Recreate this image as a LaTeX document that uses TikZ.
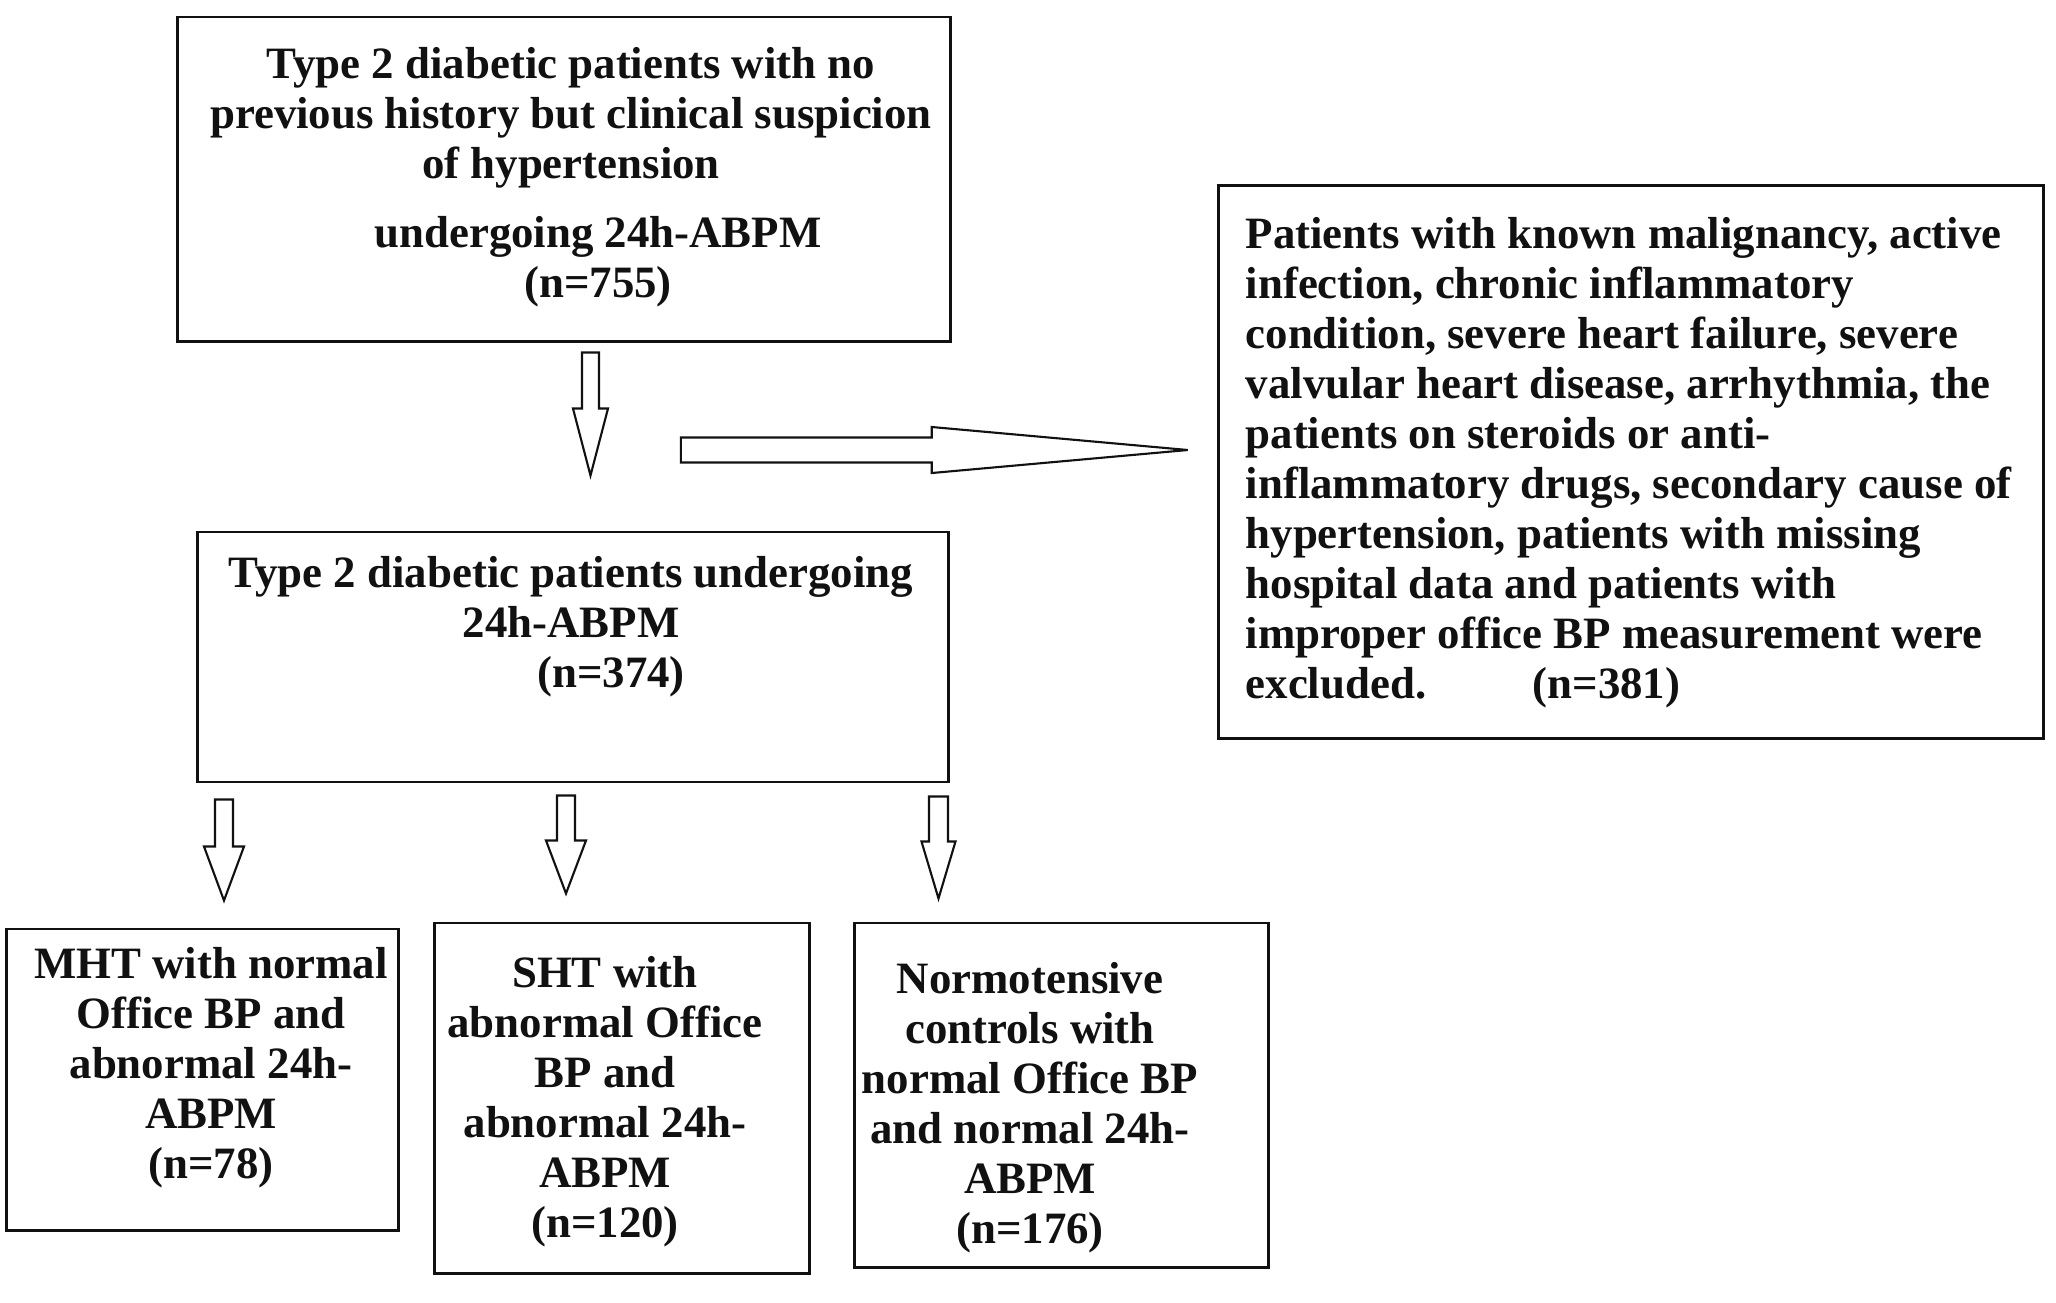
\documentclass[tikz,border=0pt]{standalone}
\usepackage{fontspec}
\setmainfont{Liberation Serif}
\usepackage{tikz}
\usetikzlibrary{calc,positioning}
\definecolor{ink}{HTML}{111111}
\tikzset{
  boxEdge/.style={draw=ink, line width=0.8pt, inner sep=0pt},
  blockArrow/.style={draw=ink, fill=white, line width=0.6pt, line join=miter},
  bodyTxt/.style={text=ink, inner sep=0pt, anchor=base, align=center,
    font=\fontsize{12.75pt}{14.2pt}\selectfont\bfseries},
  leftTxt/.style={bodyTxt, align=left, anchor=base west},
}
% start, tip, shaft half width, head half width, head length
\newcommand{\BlockArrow}[5]{%
  \coordinate (#1-hd) at ($(#2)!#5!(#1)$);
  \draw[blockArrow] ($(#1)!#3!90:(#2)$) -- ($(#1-hd)!#3!90:(#2)$)
    -- ($(#1-hd)!#4!90:(#2)$) -- (#2) -- ($(#1-hd)!#4!-90:(#2)$)
    -- ($(#1-hd)!#3!-90:(#2)$) -- ($(#1)!#3!-90:(#2)$) -- cycle;
}

\begin{document}
\begin{tikzpicture}[x=0.01cm, y=0.01cm]
  \useasboundingbox[fill=white] (0,0) rectangle (2056,-1302);

  % boxes
  \node[boxEdge, minimum width=7.72cm, minimum height=3.24cm] (screen) at (564,-179) {};
  \node[boxEdge, minimum width=7.50cm, minimum height=2.50cm] (cohort) at (573,-657) {};
  \node[boxEdge, minimum width=8.25cm, minimum height=5.52cm] (excl) at (1631,-462) {};
  \node[boxEdge, minimum width=3.91cm, minimum height=3.01cm] (mht) at (202.5,-1079.5) {};
  \node[boxEdge, minimum width=3.74cm, minimum height=3.50cm] (sht) at (622,-1098) {};
  \node[boxEdge, minimum width=4.13cm, minimum height=3.44cm] (ntc) at (1061.5,-1095) {};

  % texts (base = last line)
  \node[bodyTxt] (screenTxt) at (571,-297) {Type 2 diabetic patients with no\\
    previous history but clinical suspicion\\of hypertension\\[5.4pt]
    \hspace*{15.4pt}undergoing 24h-ABPM\\\hspace*{15.4pt}(n=755)};
  \node[bodyTxt] (cohortTxt) at (571,-687) {Type 2 diabetic patients undergoing\\
    24h-ABPM\\\hspace*{22.8pt}(n=374)};
  \node[leftTxt] (exclTxt) at (1245,-698) {Patients with known malignancy, active\\
    infection, chronic inflammatory\\condition, severe heart failure, severe\\
    valvular heart disease, arrhythmia, the\\patients on steroids or anti-\\
    inflammatory drugs, secondary cause of\\hypertension, patients with missing\\
    hospital data and patients with\\improper office BP measurement were\\
    excluded.\hspace{26pt} (n=381)};
  \node[bodyTxt] (mhtTxt) at (211,-1178) {MHT with normal\\Office BP and\\
    abnormal 24h-\\ABPM\\(n=78)};
  \node[bodyTxt] (shtTxt) at (605,-1237) {SHT with\\abnormal Office\\BP and\\
    abnormal 24h-\\ABPM\\(n=120)};
  \node[bodyTxt] (ntcTxt) at (1030,-1243) {Normotensive\\controls with\\
    normal Office BP\\and normal 24h-\\ABPM\\(n=176)};

  % block arrows
  \coordinate (a0s) at ($(screen.south)+(26.5,-10)$);
  \coordinate (a0e) at ($(a0s |- cohort.north)+(0,55)$);
  \BlockArrow{a0s}{a0e}{0.085cm}{0.175cm}{0.67cm}

  \coordinate (aXe) at ($(excl.west)+(-29,12)$);
  \coordinate (aXs) at ($(aXe)+(-507,0)$);
  \BlockArrow{aXs}{aXe}{0.125cm}{0.23cm}{2.56cm}

  \coordinate (a1s) at ($(cohort.south)+(-349,-16)$);
  \coordinate (a1e) at ($(a1s |- mht.north)+(0,27)$);
  \BlockArrow{a1s}{a1e}{0.09cm}{0.2cm}{0.54cm}

  \coordinate (a2s) at ($(cohort.south)+(-7,-12)$);
  \coordinate (a2e) at ($(a2s |- sht.north)+(0,28)$);
  \BlockArrow{a2s}{a2e}{0.09cm}{0.2cm}{0.53cm}

  \coordinate (a3s) at ($(cohort.south)+(365.5,-13)$);
  \coordinate (a3e) at ($(a3s |- ntc.north)+(0,23)$);
  \BlockArrow{a3s}{a3e}{0.095cm}{0.17cm}{0.57cm}
\end{tikzpicture}
\end{document}
